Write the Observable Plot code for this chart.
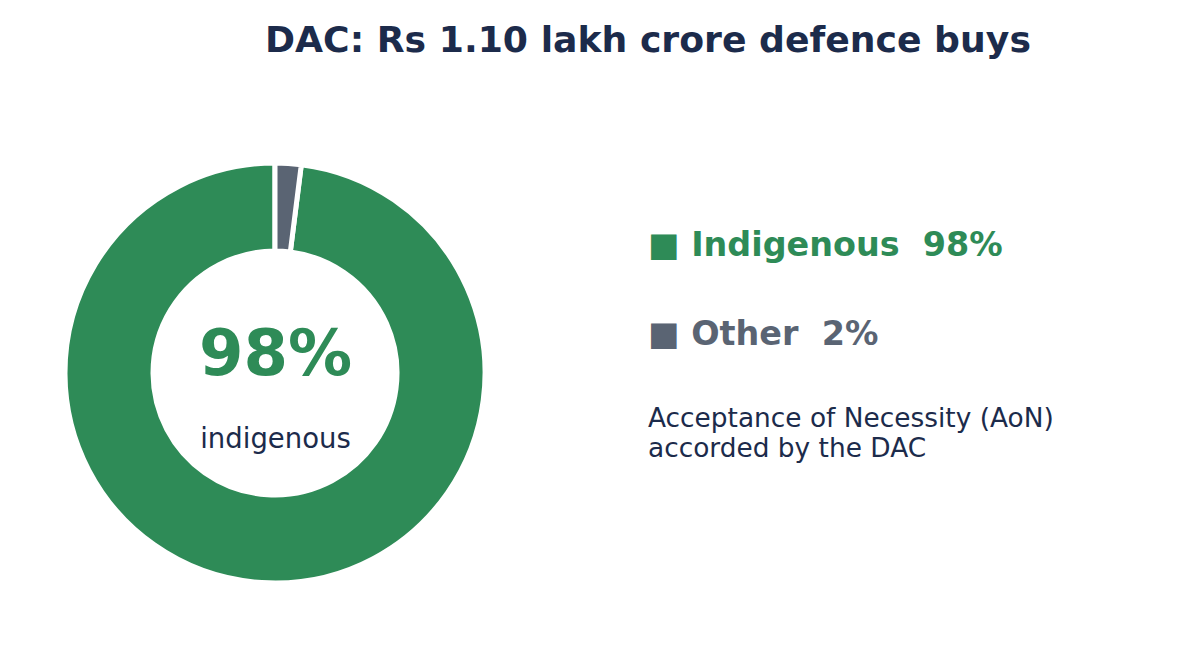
<!DOCTYPE html>
<html>
<head>
<meta charset="utf-8">
<script src="https://cdn.jsdelivr.net/npm/d3@7"></script>
<script src="https://cdn.jsdelivr.net/npm/@observablehq/plot@0.6"></script>
<style>
  html, body { margin: 0; padding: 0; background: #ffffff; }
  body { width: 1184px; height: 649px; position: relative; overflow: hidden; font-family: "DejaVu Sans", sans-serif; }
  .abs { position: absolute; white-space: pre; }
  #title { left: 0; width: 1296px; top: 22px; text-align: center; font-size: 36.2px; line-height: 36px; font-weight: bold; color: #1c2b4b; }
  #chart { left: 0; top: 98px; }
  .leg { left: 648px; font-size: 33.4px; line-height: 33px; font-weight: bold; }
  #note { left: 648px; top: 403px; font-size: 26.4px; line-height: 29.5px; color: #1c2b4b; }
</style>
</head>
<body>
<script>
// ---- data ----
const titleText = "DAC: Rs 1.10 lakh crore defence buys";
const categories = ["Indigenous", "Other"];
const shares = [98, 2];
const colors = ["#2e8b57", "#5a6473"];
const centerValue = ["98%"];
const centerLabel = ["indigenous"];
const noteLines = ["Acceptance of Necessity (AoN)", "accorded by the DAC"];
const legendTops = [228, 317];

const navy = "#1c2b4b";
const colorScale = Plot.scale({color: {type: "ordinal", domain: categories, range: colors}});

const rows = categories.map((c, i) => ({category: c, share: shares[i]}));

// title
const t = document.createElement("div");
t.className = "abs"; t.id = "title"; t.textContent = titleText;
document.body.appendChild(t);

// donut mark built from the data with d3.pie (start at top, counter-clockwise)
function donut(index, scales, values, dimensions) {
  const cx = dimensions.width / 2, cy = dimensions.height / 2;
  const pie = d3.pie().sort(null).value(d => d.share).startAngle(0).endAngle(-2 * Math.PI);
  const arc = d3.arc().innerRadius(122).outerRadius(210);
  const g = d3.create("svg:g").attr("transform", `translate(${cx},${cy})`);
  g.selectAll("path").data(pie(rows)).join("path")
    .attr("d", arc)
    .attr("fill", d => colorScale.apply(d.data.category))
    .attr("stroke", "#ffffff")
    .attr("stroke-width", 5)
    .attr("stroke-linejoin", "miter");
  return g.node();
}

const chart = Plot.plot({
  width: 550,
  height: 550,
  margin: 0,
  style: {fontFamily: "DejaVu Sans", background: "transparent"},
  marks: [
    donut,
    Plot.text(centerValue, {text: d => d, frameAnchor: "middle", dy: -18.5, fontSize: 64, fontWeight: "bold", fill: colors[0]}),
    Plot.text(centerLabel, {text: d => d, frameAnchor: "middle", dy: 66, fontSize: 27.5, fill: navy})
  ]
});
const wrap = document.createElement("div");
wrap.className = "abs"; wrap.id = "chart";
wrap.appendChild(chart);
document.body.appendChild(wrap);

// legend
categories.forEach((c, i) => {
  const d = document.createElement("div");
  d.className = "abs leg";
  d.style.top = legendTops[i] + "px";
  d.style.color = colorScale.apply(c);
  d.textContent = "\u25A0 " + c + "  " + shares[i] + "%";
  document.body.appendChild(d);
});

const n = document.createElement("div");
n.className = "abs"; n.id = "note";
n.textContent = noteLines.join("\n");
document.body.appendChild(n);
</script>
</body>
</html>
